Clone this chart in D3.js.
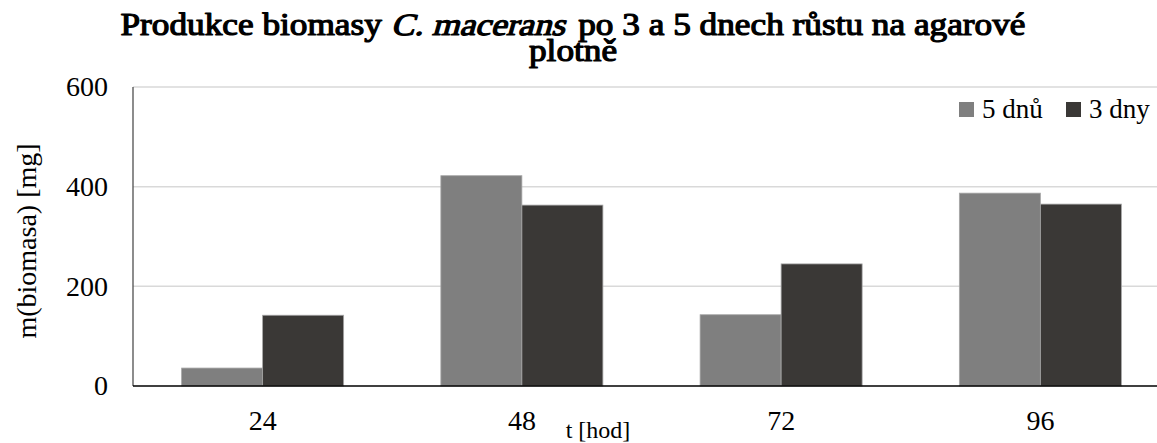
<!DOCTYPE html>
<html><head><meta charset="utf-8">
<script src="https://cdn.jsdelivr.net/npm/d3@7"></script>
<style>
html,body{margin:0;padding:0;background:#fff;overflow:hidden}
</style></head>
<body>
<script>
const categories = ["24","48","72","96"];
const seriesNames = ["5 dnů","3 dny"];
const values5 = [36, 422, 143, 387];
const values3 = [142, 363, 245, 365];
const yTicks = [0, 200, 400, 600];
const colors = ["#7f7f7f","#3a3836"];
const titleParts = [
  {text: "Produkce biomasy ", italic: false},
  {text: "C. macerans", italic: true},
  {text: " po 3 a 5 dnech růstu na agarové", italic: false}
];
const titleLine2 = "plotně";

(function(){
const FONT = '"Liberation Serif", "Times New Roman", serif';
const W = 1157, H = 443;
const svg = d3.select("body").append("svg").attr("width", W).attr("height", H)
  .style("font-family", FONT);

const pLeft = 133, pRight = 1170, pTop = 87, pBottom = 386;
const x = d3.scaleBand().domain(categories).range([pLeft, pRight]).padding(0);
const xs = d3.scaleBand().domain(seriesNames).range([0, x.bandwidth()]).paddingInner(0).paddingOuter(0.6);
const y = d3.scaleLinear().domain([0, 600]).range([pBottom, pTop]);

// gridlines
svg.append("g").selectAll("line").data(yTicks.filter(d => d > 0)).join("line")
  .attr("x1", pLeft).attr("x2", pRight)
  .attr("y1", d => y(d)).attr("y2", d => y(d))
  .attr("stroke", "#d9d9d9").attr("stroke-width", 1.5);

// bars
const data = categories.map((c, i) => ({c, vals: [values5[i], values3[i]]}));
const g = svg.append("g").selectAll("g").data(data).join("g")
  .attr("transform", d => `translate(${x(d.c)},0)`);
g.selectAll("rect").data(d => d.vals.map((v, j) => ({v, s: seriesNames[j], j}))).join("rect")
  .attr("x", d => xs(d.s)).attr("width", xs.bandwidth())
  .attr("y", d => y(d.v)).attr("height", d => y(0) - y(d.v))
  .attr("fill", d => colors[d.j]).attr("stroke", "#a6a6a6").attr("stroke-width", 0.8);

// axes lines
svg.append("line").attr("x1", pLeft).attr("x2", pLeft).attr("y1", pTop).attr("y2", pBottom)
  .attr("stroke", "#404040").attr("stroke-width", 1.2);
svg.append("line").attr("x1", pLeft).attr("x2", pRight).attr("y1", pBottom).attr("y2", pBottom)
  .attr("stroke", "#000").attr("stroke-width", 1.5);

// y tick labels
const yAxis = d3.axisLeft(y).tickValues(yTicks).tickSize(0).tickPadding(25);
const ya = svg.append("g").attr("transform", `translate(${pLeft},0)`).call(yAxis)
  .attr("font-family", FONT).attr("font-size", 28);
ya.select(".domain").remove();
ya.selectAll("text").attr("fill", "#000");

// x tick labels
const xAxis = d3.axisBottom(x).tickSize(0).tickPadding(24);
const xa = svg.append("g").attr("transform", `translate(0,${pBottom})`).call(xAxis)
  .attr("font-family", FONT).attr("font-size", 28);
xa.select(".domain").remove();
xa.selectAll("text").attr("fill", "#000");

// axis titles
svg.append("text").attr("x", 598).attr("y", 438).attr("text-anchor", "middle")
  .attr("font-family", FONT).attr("font-size", 24).attr("fill", "#000").text("t [hod]");
svg.append("text").attr("transform", "translate(36,241) rotate(-90)").attr("text-anchor", "middle")
  .attr("font-family", FONT).attr("font-size", 28).attr("fill", "#000").text("m(biomasa) [mg]");

// title (regular Liberation Serif, emboldened with a stroke; italic via skew)
const TS = 31;
const tg = svg.append("g");
let cx = 0;
titleParts.forEach(p => {
  const t = tg.append("text").attr("font-family", FONT).attr("font-size", TS)
    .attr("fill", "#000").attr("stroke", "#000").attr("stroke-width", 1.2)
    .attr("stroke-linejoin", "round")
    .style("white-space", "pre").text(p.text);
  const w = t.node().getComputedTextLength();
  t.attr("transform", p.italic ? `translate(${cx},0) skewX(-14)` : `translate(${cx},0)`);
  cx += w + (p.italic ? 4 : 0);
});
const sx = 905 / cx;
tg.attr("transform", `translate(${573 - 452.5},35) scale(${sx},1)`);
svg.append("text").attr("text-anchor", "middle")
  .attr("transform", `translate(573,61) scale(${sx},1)`)
  .attr("font-family", FONT).attr("font-size", TS).attr("fill", "#000")
  .attr("stroke", "#000").attr("stroke-width", 1.2).attr("stroke-linejoin", "round")
  .text(titleLine2);

// legend
const legX = [959, 1066];
const lg = svg.append("g").selectAll("g").data(seriesNames).join("g")
  .attr("transform", (d, i) => `translate(${legX[i]},102)`);
lg.append("rect").attr("width", 15).attr("height", 15).attr("fill", (d, i) => colors[i]);
lg.append("text").attr("x", 23).attr("y", 16).attr("font-family", FONT).attr("font-size", 27)
  .attr("fill", "#000").text(d => d);
})();
</script>
</body></html>
